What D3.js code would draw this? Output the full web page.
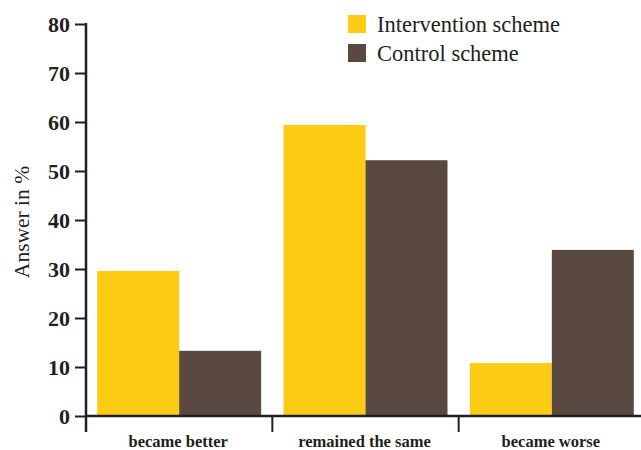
<!DOCTYPE html>
<html>
<head>
<meta charset="utf-8">
<script src="https://cdn.jsdelivr.net/npm/d3@7"></script>
<style>
  body { margin: 0; background: #fff; }
  svg { display: block; }
  svg text { font-family: "Liberation Serif", "DejaVu Serif", serif !important; fill: #231f20; }
</style>
</head>
<body>
<div id="chart"></div>
<script>
(function() {
    "use strict";

    var categories = ["became better", "remained the same", "became worse"];
    var seriesNames = ["Intervention scheme", "Control scheme"];
    var intervention = [29.6, 59.4, 10.8];
    var control = [13.3, 52.2, 33.9];
    var yTicks = [0, 10, 20, 30, 40, 50, 60, 70, 80];
    var colors = ["#fbcc13", "#5a4940"];

    var w = 641, h = 450,
        left = 86, right = 645, top = 24, bottom = 416;

    var svg = d3.select("#chart").append("svg")
        .attr("width", w)
        .attr("height", h);

    var x = d3.scaleBand()
        .domain(categories)
        .range([left, right])
        .paddingInner(0.12)
        .paddingOuter(0.06);

    var step = x.step();

    var xSub = d3.scaleBand()
        .domain(seriesNames)
        .range([0, x.bandwidth()]);

    var y = d3.scaleLinear()
        .domain([0, 80])
        .range([bottom, top]);

    var color = d3.scaleOrdinal().domain(seriesNames).range(colors);

    // bars
    var rows = categories.map(function(c, i) {
        return { cat: c, values: [intervention[i], control[i]] };
    });

    var groups = svg.selectAll("g.group")
        .data(rows)
        .enter()
        .append("g")
        .attr("class", "group")
        .attr("transform", function(d) { return "translate(" + x(d.cat) + ",0)"; });

    groups.selectAll("rect")
        .data(function(d) {
            return d.values.map(function(v, j) { return { name: seriesNames[j], v: v }; });
        })
        .enter()
        .append("rect")
        .attr("x", function(d) { return xSub(d.name); })
        .attr("width", xSub.bandwidth())
        .attr("y", function(d) { return y(d.v); })
        .attr("height", function(d) { return bottom - y(d.v); })
        .attr("fill", function(d) { return color(d.name); });

    // y axis
    var yAxis = d3.axisLeft(y)
        .tickValues(yTicks)
        .tickSize(11)
        .tickPadding(5);

    var gy = svg.append("g")
        .attr("transform", "translate(" + left + ",0)")
        .call(yAxis)
        .attr("font-family", null);
    gy.select(".domain").remove();
    gy.selectAll(".tick line").attr("stroke", "#231f20").attr("stroke-width", 2);
    gy.selectAll(".tick text")
        .style("font-size", "22px")
        .style("font-weight", "bold")
        .attr("fill", "#231f20");

    svg.append("line")
        .attr("x1", left).attr("x2", left)
        .attr("y1", y(80) - 1).attr("y2", bottom + 16)
        .attr("stroke", "#231f20").attr("stroke-width", 2.5);

    // x axis
    svg.append("line")
        .attr("x1", left).attr("x2", w)
        .attr("y1", bottom).attr("y2", bottom)
        .attr("stroke", "#231f20").attr("stroke-width", 2.5);

    svg.selectAll("line.xtick")
        .data(categories.slice(1))
        .enter()
        .append("line")
        .attr("class", "xtick")
        .attr("x1", function(d) { return x(d) - step * x.paddingInner() / 2; })
        .attr("x2", function(d) { return x(d) - step * x.paddingInner() / 2; })
        .attr("y1", bottom).attr("y2", bottom + 16)
        .attr("stroke", "#231f20").attr("stroke-width", 2);

    svg.selectAll("text.xlabel")
        .data(categories)
        .enter()
        .append("text")
        .attr("class", "xlabel")
        .attr("x", function(d) { return x(d) + x.bandwidth() / 2 - 1; })
        .attr("y", 447)
        .attr("text-anchor", "middle")
        .style("font-size", "16.5px")
        .style("font-weight", "bold")
        .text(function(d) { return d; });

    // y title
    svg.append("text")
        .attr("transform", "translate(29," + 222 + ") rotate(-90)")
        .attr("text-anchor", "middle")
        .style("font-size", "21.5px")
        .attr("fill", "#333")
        .text("Answer in %");

    // legend
    var legend = svg.selectAll("g.legend")
        .data(seriesNames)
        .enter()
        .append("g")
        .attr("class", "legend")
        .attr("transform", function(d, i) { return "translate(348," + (15 + i * 29) + ")"; });

    legend.append("rect")
        .attr("width", 18)
        .attr("height", 18)
        .attr("fill", function(d) { return color(d); });

    legend.append("text")
        .attr("x", 29)
        .attr("y", 17)
        .style("font-size", "22.5px")
        .text(function(d) { return d; });
}());
</script>
</body>
</html>
